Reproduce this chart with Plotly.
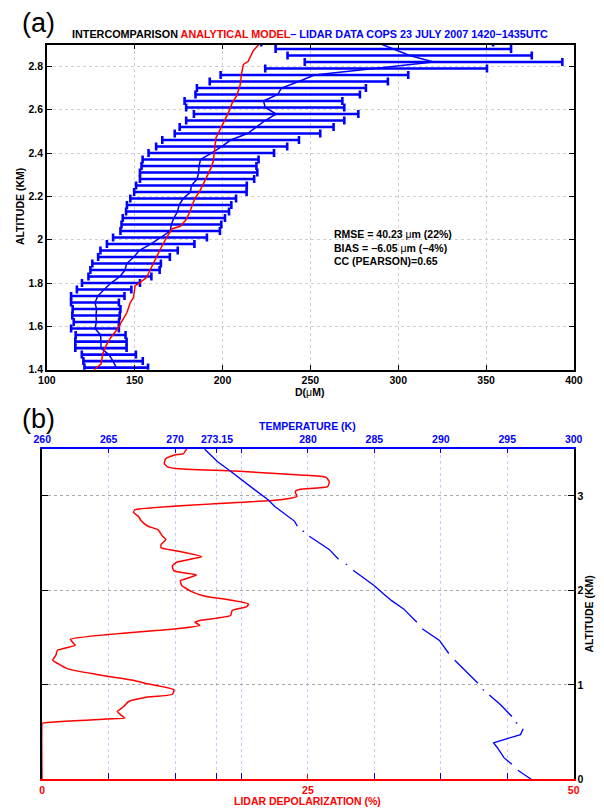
import plotly.graph_objects as go

# ---------------- Panel (a) data ----------------
lidar_alt = [2.91, 2.88, 2.85, 2.82, 2.79, 2.76, 2.73, 2.70, 2.67, 2.64, 2.61, 2.58, 2.55,
             2.52, 2.49, 2.46, 2.43, 2.40, 2.37, 2.34, 2.31, 2.28, 2.25, 2.22, 2.19, 2.16,
             2.13, 2.10, 2.07, 2.04, 2.01, 1.98, 1.95, 1.92, 1.89, 1.86, 1.83, 1.80, 1.77,
             1.74, 1.71, 1.68, 1.65, 1.62, 1.59, 1.56, 1.53, 1.50, 1.47, 1.44, 1.41]
lidar_mean = [288.0, 297.2, 306.5, 320.1, 287.4, 252.3, 243.4, 233.5, 231.4, 223.3, 224.3, 230.5,
              224.3, 219.4, 214.2, 204.6, 199.5, 193.6, 187.5, 186.6, 186.4, 185.5, 182.3, 181.7,
              177.6, 175.3, 174.4, 172.3, 170.9, 170.2, 164.4, 159.1, 152.5, 149.6, 145.4, 144.5,
              141.6, 136.5, 132.6, 129.0, 127.4, 128.3, 128.0, 128.2, 127.4, 130.6, 130.8, 130.8,
              135.3, 137.7, 139.5]
lidar_err = [66.0, 67.0, 69.5, 73.3, 63.1, 53.4, 50.7, 48.1, 46.8, 44.9, 45.0, 46.8, 45.0, 43.8,
             41.4, 38.9, 37.3, 35.7, 33.0, 32.7, 33.4, 32.5, 31.5, 32.0, 30.1, 29.7, 29.3, 29.1,
             28.4, 28.3, 26.7, 24.9, 22.0, 20.4, 19.5, 19.7, 17.9, 16.5, 15.5, 15.2, 13.6, 13.6,
             13.5, 12.9, 13.6, 14.2, 14.6, 14.6, 15.4, 16.9, 18.1]

model_alt = [2.904, 2.871, 2.823, 2.809, 2.774, 2.736, 2.713, 2.667, 2.629, 2.591, 2.545, 2.499,
             2.468, 2.437, 2.399, 2.361, 2.330, 2.299, 2.269, 2.223, 2.192, 2.131, 2.093, 2.062,
             2.051, 2.016, 1.963, 1.917, 1.871, 1.825, 1.802, 1.787, 1.733, 1.710, 1.664, 1.626,
             1.587, 1.549, 1.511, 1.473, 1.427, 1.401, 1.390]
model_d = [221.0, 217.4, 214.6, 211.9, 211.0, 210.5, 210.0, 208.2, 205.4, 203.6, 200.8, 198.0,
           196.2, 195.8, 195.3, 194.7, 193.4, 191.6, 189.8, 187.0, 184.3, 181.5, 179.3, 176.0,
           171.4, 168.6, 165.0, 162.2, 159.4, 156.7, 153.0, 150.2, 149.3, 147.5, 145.6, 142.9,
           140.1, 136.4, 133.7, 131.8, 130.9, 127.2, 126.0]

d_ticks = [100, 150, 200, 250, 300, 350, 400]
alt_ticks_a = [1.4, 1.6, 1.8, 2.0, 2.2, 2.4, 2.6, 2.8]
alt_labels_a = ["1.4", "1.6", "1.8", "2", "2.2", "2.4", "2.6", "2.8"]

# ---------------- Panel (b) data ----------------
depol_alt = [3.50, 3.476, 3.448, 3.431, 3.396, 3.343, 3.308, 3.291, 3.263, 3.221, 3.196, 3.151,
             3.099, 3.070, 3.046, 2.994, 2.959, 2.854, 2.826, 2.784, 2.731, 2.679, 2.644, 2.574,
             2.539, 2.487, 2.451, 2.417, 2.357, 2.301, 2.259, 2.207, 2.162, 2.102, 2.049, 1.979,
             1.944, 1.857, 1.829, 1.787, 1.735, 1.682, 1.664, 1.630, 1.595, 1.483, 1.438, 1.420,
             1.367, 1.315, 1.262, 1.228, 1.170, 1.112, 1.052, 1.018, 0.948, 0.902, 0.867, 0.825,
             0.772, 0.720, 0.685, 0.650, 0.640, 0.598, 0.590, 0.0]
depol_val = [13.6, 13.46, 13.3, 12.4, 11.63, 11.48, 11.78, 12.55, 18.17, 24.26, 26.7, 27.0,
             26.85, 24.26, 23.8, 23.96, 22.4, 8.74, 8.58, 9.04, 9.35, 9.95, 10.87, 11.32,
             11.63, 11.18, 11.18, 12.69, 14.98, 12.69, 12.24, 12.39, 14.52, 13.0, 13.15, 14.22,
             15.13, 19.4, 19.24, 17.87, 17.72, 14.83, 14.37, 14.83, 12.69, 2.65, 2.96, 3.1,
             1.43, 1.28, 0.98, 1.43, 2.4, 5.1, 8.44, 9.65, 12.39, 12.24, 9.65, 8.13,
             7.67, 7.07, 7.37, 7.76, 6.0, 0.06, 0.0, 0.0]

temp_alt = [3.494, 3.361, 3.274, 3.169, 3.064, 2.959, 2.889, 2.731, 2.679, None,
            2.630, 2.620, None,
            2.574, 2.487, 2.434, 2.330, None,
            2.280, 2.272, None,
            2.214, 2.120, 2.049, 1.962, 1.892, 1.805, 1.664, None,
            1.595, 1.472, 1.333, None,
            1.262, 1.157, 1.018, None,
            0.952, 0.944, None,
            0.895, 0.790, 0.667, None,
            0.602, 0.594, None,
            0.538, 0.475, 0.433, 0.388, 0.336, 0.231, 0.161, None,
            0.098, 0.003]
temp_val = [272.23, 273.2, 274.05, 275.0, 276.0, 277.0, 277.5, 279.0, 279.2, None,
            279.6, 279.7, None,
            280.1, 281.0, 281.6, 282.3, None,
            282.85, 282.95, None,
            283.4, 284.3, 285.0, 285.7, 286.3, 287.2, 288.2, None,
            288.6, 289.9, 290.6, None,
            291.05, 291.8, 292.8, None,
            293.15, 293.25, None,
            293.65, 294.5, 295.35, None,
            295.65, 295.75, None,
            296.2, 296.0, 295.0, 293.97, 294.26, 294.75, 295.35, None,
            295.8, 296.8]

temp_ticks = [260, 265, 270, 273.15, 275, 280, 285, 290, 295, 300]
temp_labels = ["260", "265", "270", "273.15", "", "280", "285", "290", "295", "300"]
temp_ticks_bottom = [265, 270, 273.15, 275, 285, 290, 295]
depol_ticks = [0, 25, 50]
alt_ticks_b = [0, 1, 2, 3]

# ---------------- Figure ----------------
W, H = 604, 812
FONT = "Liberation Sans, Arial, Helvetica, sans-serif"
RED = "#ff0000"
BLUE = "#0000ff"


def px(x):
    return x / W


def py(y):
    return 1 - y / H


fig = go.Figure()

fig.add_trace(go.Scatter(
    x=lidar_mean, y=lidar_alt, mode="lines",
    line=dict(color=BLUE, width=1.5),
    error_x=dict(type="data", array=lidar_err, symmetric=True,
                 color=BLUE, thickness=2.6, width=4),
    xaxis="x", yaxis="y", hoverinfo="skip"))
fig.add_trace(go.Scatter(
    x=model_d, y=model_alt, mode="lines",
    line=dict(color=RED, width=1.5),
    xaxis="x", yaxis="y", hoverinfo="skip"))

fig.add_trace(go.Scatter(
    x=depol_val, y=depol_alt, mode="lines",
    line=dict(color=RED, width=1.5, shape="spline", smoothing=0.5),
    xaxis="x2", yaxis="y2", hoverinfo="skip"))
fig.add_trace(go.Scatter(
    x=temp_val, y=temp_alt, mode="lines", connectgaps=False,
    line=dict(color=BLUE, width=1.3),
    xaxis="x3", yaxis="y2", hoverinfo="skip"))
fig.add_trace(go.Scatter(x=[], y=[], mode="lines", xaxis="x4", yaxis="y2",
                         hoverinfo="skip"))

tick_font = dict(family=FONT, size=10.5, color="black", weight="bold")

fig.update_layout(
    width=W, height=H,
    margin=dict(l=0, r=0, t=0, b=0),
    paper_bgcolor="white", plot_bgcolor="white",
    showlegend=False,
    xaxis=dict(domain=[px(39), px(582.3)], anchor="y", range=[100, 400],
               tickmode="array", tickvals=d_ticks, ticks="inside", ticklen=5,
               tickcolor="black", showline=True, linecolor="black", linewidth=1.5,
               mirror="ticks", showgrid=True, gridcolor="#cfcfcf", griddash="dot",
               gridwidth=1, zeroline=False, tickfont=tick_font),
    yaxis=dict(domain=[py(372.5), py(45)], anchor="x", range=[1.4, 2.9],
               tickmode="array", tickvals=alt_ticks_a, ticktext=alt_labels_a,
               ticks="inside", ticklen=5, tickcolor="black", showline=True,
               linecolor="black", linewidth=1.5, mirror="ticks", showgrid=True,
               gridcolor="#cfcfcf", griddash="dot", gridwidth=1, zeroline=False,
               tickfont=tick_font),
    xaxis2=dict(domain=[px(34.3), px(582)], anchor="y2", range=[0, 50], side="bottom",
                tickmode="array", tickvals=depol_ticks, ticks="inside", ticklen=6,
                tickcolor=RED, showline=True, linecolor=RED, linewidth=1.5,
                showgrid=False, zeroline=False,
                tickfont=dict(family=FONT, size=10.5, color=RED, weight="bold")),
    yaxis2=dict(domain=[py(785.3), py(452)], anchor="x2", side="right", range=[0, 3.5],
                tickmode="array", tickvals=alt_ticks_b, ticks="inside", ticklen=6,
                tickcolor="black", showline=True, linecolor="black", linewidth=1.5,
                mirror="ticks", showgrid=True, gridcolor="#a8a8a8", griddash="dot",
                gridwidth=1, zeroline=False, tickfont=tick_font),
    xaxis3=dict(overlaying="x2", anchor="y2", side="top", range=[260, 300],
                tickmode="array", tickvals=temp_ticks, ticktext=temp_labels,
                ticks="inside", ticklen=5, tickcolor=BLUE, showline=True,
                linecolor=BLUE, linewidth=1.5, showgrid=True,
                gridcolor="rgba(120,120,255,0.4)", griddash="dot", gridwidth=1,
                zeroline=False,
                tickfont=dict(family=FONT, size=10.5, color=BLUE, weight="bold")),
    xaxis4=dict(overlaying="x2", anchor="y2", side="bottom", range=[260, 300],
                tickmode="array", tickvals=temp_ticks_bottom, ticks="inside", ticklen=6,
                tickcolor=BLUE, showline=False, showgrid=False, zeroline=False,
                showticklabels=False),
)

ann = []


def add_text(text, x, y, size=10.5, color="black", angle=0, xanchor="center", align="center"):
    ann.append(dict(text=text, x=px(x), y=py(y), xref="paper", yref="paper",
                    xanchor=xanchor, yanchor="middle", showarrow=False, textangle=angle,
                    align=align, font=dict(family=FONT, size=size, color=color)))


add_text("(a)", 30, 23, size=27)
add_text("<b>INTERCOMPARISON </b><b><span style='color:#ff0000'>ANALYTICAL MODEL</span></b>"
         "<b><span style='color:#0000ff'>– LIDAR DATA COPS 23 JULY 2007 1420−1435UTC</span></b>",
         310, 34, size=10.8)
add_text("<b>RMSE = 40.23 </b>μ<b>m (22%)</b><br><b>BIAS = −6.05 </b>μ<b>m (−4%)</b><br>"
         "<b>CC (PEARSON)=0.65</b>", 333, 249, size=10.5, xanchor="left", align="left")
add_text("<b>D(</b>μ<b>M)</b>", 310, 394.5, size=10.5)
add_text("<b>ALTITUDE (KM)</b>", 12, 208, size=10.5, angle=-90)
add_text("(b)", 30, 422, size=27)
add_text("<b>TEMPERATURE (K)</b>", 308, 429.5, size=10.5, color=BLUE)
add_text("<b>LIDAR DEPOLARIZATION (%)</b>", 308, 806.5, size=10.5, color=RED)
add_text("<b>ALTITUDE (KM)</b>", 598, 619, size=10.5, angle=-90)

fig.update_layout(annotations=ann)

fig.write_html("out.html", config={"displayModeBar": False})
